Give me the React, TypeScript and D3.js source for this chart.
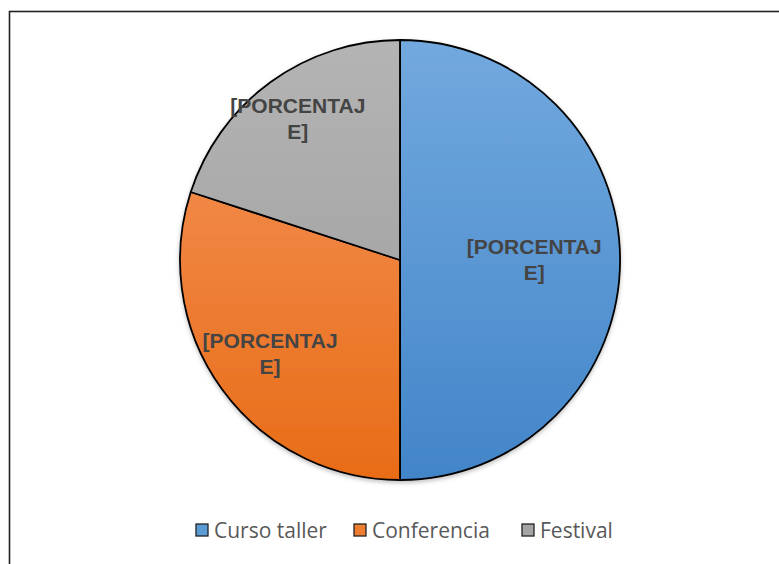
import { useRef, useEffect } from 'react';
import * as d3 from 'd3';

const categories = ['Curso taller', 'Conferencia', 'Festival'];
const values = [50, 30, 20];
const labelText = ['[PORCENTAJ', 'E]'];
const topColors = ['#72a9de', '#f5965e', '#b4b4b4'];
const bottomColors = ['#4285c9', '#e86c17', '#9b9b9b'];
const legendFill = ['#5b9bd5', '#ed7d31', '#a5a5a5'];

export default function App() {
  const svgRef = useRef<SVGSVGElement>(null);

  useEffect(() => {
    const width = 779;
    const height = 564;
    const cx = 400, cy = 260, radius = 220;
    // label distance from centre, per slice (Excel best-fit look)
    const labelR = [0.61, 0.73, 0.79];

    const svg = d3.select(svgRef.current)
      .attr('width', width)
      .attr('height', height);
    svg.selectAll('*').remove();

    svg.append('rect')
      .attr('x', 9.5).attr('y', 11.5)
      .attr('width', 800).attr('height', 600)
      .attr('fill', '#fff')
      .attr('stroke', '#222').attr('stroke-width', 1.6);

    const defs = svg.append('defs');
    categories.forEach((c, i) => {
      const g = defs.append('linearGradient')
        .attr('id', 'grad' + i)
        .attr('gradientUnits', 'userSpaceOnUse')
        .attr('x1', 0).attr('y1', -radius)
        .attr('x2', 0).attr('y2', radius);
      g.append('stop').attr('offset', '0%').attr('stop-color', topColors[i]);
      g.append('stop').attr('offset', '100%').attr('stop-color', bottomColors[i]);
    });
    const shadow = defs.append('filter').attr('id', 'shadow')
      .attr('x', '-10%').attr('y', '-10%').attr('width', '120%').attr('height', '120%');
    shadow.append('feDropShadow')
      .attr('dx', 0).attr('dy', 2).attr('stdDeviation', 2)
      .attr('flood-color', '#000').attr('flood-opacity', 0.25);

    const pie = d3.pie<number>().value(d => d).sort(null);
    const arc = d3.arc<d3.PieArcDatum<number>>().innerRadius(0).outerRadius(radius);

    const g = svg.append('g').attr('transform', `translate(${cx},${cy})`);
    const arcs = pie(values);

    g.append('g').attr('filter', 'url(#shadow)')
      .selectAll('path')
      .data(arcs)
      .enter()
      .append('path')
      .attr('d', arc)
      .attr('fill', (d, i) => `url(#grad${i})`)
      .attr('stroke', '#000')
      .attr('stroke-width', 1.8)
      .attr('stroke-linejoin', 'round');

    const labels = g.selectAll('text.lbl')
      .data(arcs)
      .enter()
      .append('text')
      .attr('class', 'lbl')
      .attr('transform', (d, i) => {
        const r = radius * labelR[i];
        const la = d3.arc<d3.PieArcDatum<number>>().innerRadius(r).outerRadius(r);
        const [x, y] = la.centroid(d);
        return `translate(${x},${y})`;
      })
      .attr('text-anchor', 'middle')
      .attr('font-family', 'Liberation Sans, Arial, sans-serif')
      .attr('font-weight', 'bold')
      .attr('font-size', 21)
      .attr('fill', '#444');
    labels.append('tspan').attr('x', 0).attr('dy', -6).text(labelText[0]);
    labels.append('tspan').attr('x', 0).attr('dy', 26).text(labelText[1]);

    const legendX = [196, 354, 522];
    const legend = svg.append('g');
    categories.forEach((c, i) => {
      legend.append('rect')
        .attr('x', legendX[i]).attr('y', 524)
        .attr('width', 12).attr('height', 12)
        .attr('fill', legendFill[i])
        .attr('stroke', '#222').attr('stroke-width', 1.3);
      legend.append('text')
        .attr('x', legendX[i] + 18).attr('y', 537.5)
        .attr('font-family', 'Open Sans, sans-serif')
        .attr('font-size', 21)
        .attr('fill', '#595959')
        .text(c);
    });
  }, []);

  return (
    <svg ref={svgRef} style={{ position: 'absolute', left: 0, top: 0 }} />
  );
}
